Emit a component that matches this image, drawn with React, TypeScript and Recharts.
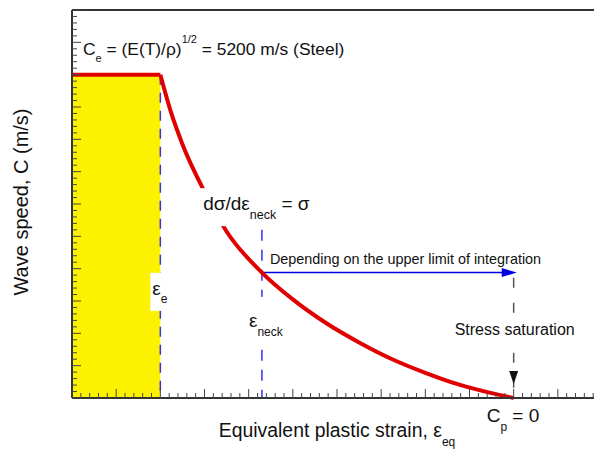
import React from 'react';
import { LineChart, Line, XAxis, YAxis, ReferenceArea, ReferenceLine, ReferenceDot } from 'recharts';

// elastic plateau: wave speed stays at C_e until the elastic strain limit
const plateauStrain = [0, 2];
const plateauSpeed = [10, 10];
// plastic branch: wave speed drops with the tangent modulus down to saturation
const plasticStrain = [2, 2.25, 2.5, 3, 3.5, 4.3, 5, 5.75, 6.5, 7.25, 8, 8.75, 9.5, 10];
const plasticSpeed = [10, 8.8, 7.85, 6.38, 5.15, 3.88, 3.05, 2.32, 1.72, 1.2, 0.78, 0.42, 0.15, 0];

// marker strains and levels
const EPS_E = 2;
const EPS_NECK = 4.3;
const SPEED_AT_NECK = 3.88;
const EPS_SAT = 10;
const ARROW_END = 10.07;
const NECK_LINE_TOP = 5.2;
const SAT_LINE_TOP = 3.72;

const plateau = plateauStrain.map((x, i) => ({ x, y: plateauSpeed[i] }));
const plastic = plasticStrain.map((x, i) => ({ x, y: plasticSpeed[i] }));

// minor ticks every 0.2, major every 1
const TICKS = Array.from({ length: 61 }, (_, i) => i / 5);

const FONT = 'Arial, "Liberation Sans", sans-serif';
const RED = '#e10000';
const BLUE = '#3434f0';

const InwardTick = ({ x, y, payload, side }: any) => {
  const v = payload.value;
  const len = Math.abs(v - Math.round(v)) < 1e-6 ? 9 : 5;
  const dx = side === 'left' ? len : side === 'right' ? -len : 0;
  const dy = side === 'bottom' ? -len : side === 'top' ? len : 0;
  return <line x1={x} y1={y} x2={x + dx} y2={y + dy} stroke="#444" strokeWidth={1} />;
};

const axisLine = { stroke: '#333', strokeWidth: 2 };

const XTitle = ({ viewBox }: any) => (
  <text x={viewBox.x + viewBox.width / 2} y={viewBox.y + 39} textAnchor="middle" fontSize={19.4} fontFamily={FONT} fill="#111">
    Equivalent plastic strain, ε<tspan dy={9} fontSize={12}>eq</tspan>
  </text>
);

const YTitle = ({ viewBox }: any) => {
  const cx = 28;
  const cy = viewBox.y + viewBox.height / 2 - 2;
  return (
    <text x={cx} y={cy} transform={`rotate(-90 ${cx} ${cy})`} textAnchor="middle" fontSize={20} fontFamily={FONT} fill="#111">
      Wave speed, C (m/s)
    </text>
  );
};

const ElasticSpeedLabel = ({ cx, cy }: any) => (
  <text x={cx + 11} y={cy - 20} fontSize={17.4} fontFamily={FONT} fill="#111">
    C<tspan dy={7} fontSize={11}>e</tspan>
    <tspan dy={-7}> = (E(T)/ρ)</tspan>
    <tspan dy={-12} fontSize={11}>1/2</tspan>
    <tspan dy={12}> = 5200 m/s (Steel)</tspan>
  </text>
);

const NeckRateLabel = ({ cx, cy }: any) => (
  <g>
    <rect x={cx - 9} y={cy - 22} width={126} height={38} fill="#fff" />
    <text x={cx} y={cy} fontSize={19} fontFamily={FONT} fill="#111">
      dσ/dε<tspan dy={9} fontSize={12.5}>neck</tspan>
      <tspan dy={-9} fontSize={19}> = σ</tspan>
    </text>
  </g>
);

const EpsELabel = ({ cx, cy }: any) => (
  <g>
    <rect x={cx - 10} y={cy - 22} width={20} height={38} fill="#fff" />
    <text x={cx - 8} y={cy} fontSize={19} fontFamily={FONT} fill="#111">
      ε<tspan dy={8} fontSize={12}>e</tspan>
    </text>
  </g>
);

const EpsNeckLabel = ({ cx, cy }: any) => (
  <g>
    <rect x={cx - 16} y={cy - 30} width={40} height={45} fill="#fff" />
    <text x={cx - 13} y={cy} fontSize={19} fontFamily={FONT} fill="#111">
      ε<tspan dy={9} fontSize={12}>neck</tspan>
    </text>
  </g>
);

const LimitNote = ({ cx, cy }: any) => (
  <text x={cx + 8} y={cy - 9} fontSize={14.4} fontFamily={FONT} fill="#111">
    Depending on the upper limit of integration
  </text>
);

const SaturationLabel = ({ cx, cy }: any) => (
  <g>
    <rect x={cx - 64} y={cy - 17} width={128} height={24} fill="#fff" />
    <text x={cx + 1} y={cy} textAnchor="middle" fontSize={16} fontFamily={FONT} fill="#111">
      Stress saturation
    </text>
  </g>
);

const PlasticZeroLabel = ({ cx, cy }: any) => (
  <text x={cx - 27} y={cy + 24} fontSize={19} fontFamily={FONT} fill="#111">
    C<tspan dy={9} fontSize={12}>p</tspan>
    <tspan dy={-9}> = 0</tspan>
  </text>
);

// blue arrow towards the integration limit
const LimitArrow = ({ x1, y1, x2, y2 }: any) => (
  <g>
    <line x1={x1} y1={y1} x2={x2 - 12} y2={y2} stroke="#0000dd" strokeWidth={1.5} />
    <polygon points={`${x2},${y2} ${x2 - 15},${y2 - 4.5} ${x2 - 15},${y2 + 4.5}`} fill="#0000dd" />
  </g>
);

// gray dashed drop line with a black head just above the axis
const SaturationDrop = ({ x1, y1, x2, y2 }: any) => {
  const top = Math.min(y1, y2);
  const bottom = Math.max(y1, y2);
  return (
    <g>
      <line x1={x1} y1={top} x2={x2} y2={bottom} stroke="#555" strokeWidth={1.5} strokeDasharray="10 15" />
      <polygon points={`${x1},${bottom - 14} ${x1 - 4.5},${bottom - 27} ${x1 + 4.5},${bottom - 27}`} fill="#111" />
    </g>
  );
};

export default function App() {
  return (
    <div style={{ position: 'absolute', left: 0, top: 0, width: 594, height: 453, overflow: 'hidden', background: '#fff', fontFamily: FONT }}>
      <LineChart width={620} height={453} margin={{ top: 0, right: 0, bottom: 0, left: 0 }}>
        <XAxis
          xAxisId="top" orientation="top" type="number" domain={[0, 12]} ticks={TICKS} interval={0}
          height={10} tickSize={0} tickMargin={0} tickLine={false} axisLine={axisLine}
          tick={(p: any) => <InwardTick {...p} side="top" />}
        />
        <XAxis
          dataKey="x" type="number" domain={[0, 12]} ticks={TICKS} interval={0}
          height={55} tickSize={0} tickMargin={0} tickLine={false} axisLine={axisLine}
          tick={(p: any) => <InwardTick {...p} side="bottom" />}
          label={{ content: XTitle }}
        />
        <YAxis
          type="number" domain={[0, 12]} ticks={TICKS} interval={0}
          width={72} tickSize={0} tickMargin={0} tickLine={false} axisLine={axisLine}
          tick={(p: any) => <InwardTick {...p} side="left" />}
          label={{ content: YTitle }}
        />
        <YAxis
          yAxisId="right" orientation="right" type="number" domain={[0, 12]} ticks={TICKS} interval={0}
          width={18} tickSize={0} tickMargin={0} tickLine={false} axisLine={axisLine}
          tick={(p: any) => <InwardTick {...p} side="right" />}
        />

        <ReferenceArea x1={0} x2={EPS_E} y1={0} y2={plateauSpeed[0]} fill="#fbf100" fillOpacity={1} stroke="none" />
        <ReferenceLine
          segment={[{ x: EPS_E, y: plateauSpeed[0] }, { x: EPS_E, y: 0 }]}
          stroke={BLUE} strokeWidth={1.5} strokeDasharray="10 8"
        />
        <ReferenceLine
          segment={[{ x: EPS_NECK, y: NECK_LINE_TOP }, { x: EPS_NECK, y: 0 }]}
          stroke={BLUE} strokeWidth={1.5} strokeDasharray="11 9"
        />
        <ReferenceLine
          segment={[{ x: EPS_SAT, y: SAT_LINE_TOP }, { x: EPS_SAT, y: 0 }]}
          shape={SaturationDrop}
        />
        <ReferenceLine
          segment={[{ x: EPS_NECK, y: SPEED_AT_NECK }, { x: ARROW_END, y: SPEED_AT_NECK }]}
          shape={LimitArrow}
        />

        <Line data={plateau} dataKey="y" type="linear" stroke={RED} strokeWidth={4} dot={false} isAnimationActive={false} />
        <Line data={plastic} dataKey="y" type="monotone" stroke={RED} strokeWidth={4} dot={false} isAnimationActive={false} />

        <ReferenceDot x={0} y={plateauSpeed[0]} shape={ElasticSpeedLabel} />
        <ReferenceDot x={2.97} y={5.81} shape={NeckRateLabel} />
        <ReferenceDot x={EPS_E} y={3.19} shape={EpsELabel} />
        <ReferenceDot x={EPS_NECK} y={2.2} shape={EpsNeckLabel} />
        <ReferenceDot x={EPS_NECK} y={SPEED_AT_NECK} shape={LimitNote} />
        <ReferenceDot x={EPS_SAT} y={1.95} shape={SaturationLabel} />
        <ReferenceDot x={EPS_SAT} y={0} shape={PlasticZeroLabel} />
      </LineChart>
    </div>
  );
}
